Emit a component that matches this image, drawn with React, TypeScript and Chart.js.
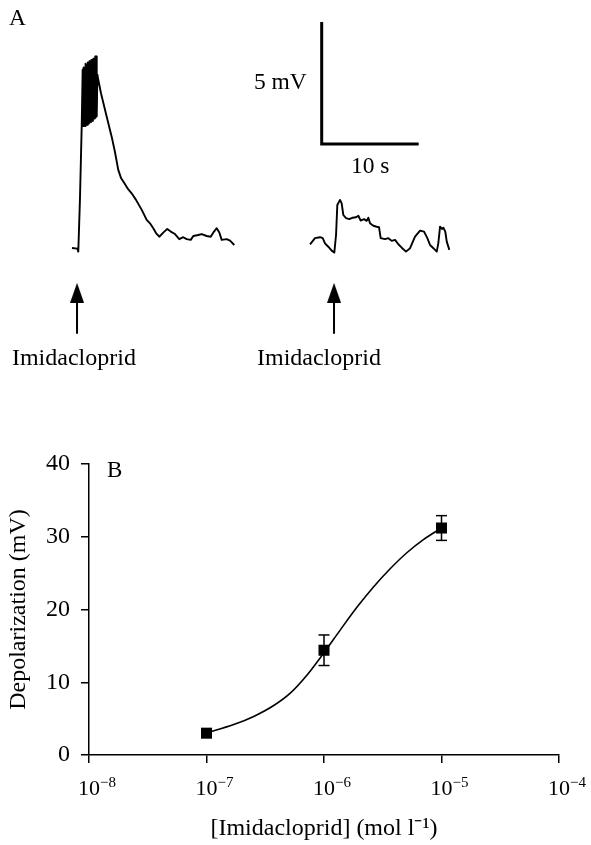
import { useEffect, useRef } from 'react';
import { Chart, registerables } from 'chart.js';

Chart.register(...registerables);

// ---------- Panel A: membrane potential traces (time in s, potential in mV above rest) ----------
const TRACE1_T = [
  0.0, 0.55, 0.65, 0.82, 1.0, 1.1,
  1.15, 1.2, 1.25, 1.3, 1.35, 1.4, 1.45, 1.5, 1.55, 1.6, 1.65, 1.7, 1.75, 1.8, 1.85, 1.9, 1.95,
  2.0, 2.05, 2.1, 2.15, 2.2, 2.25, 2.3, 2.35, 2.4, 2.45, 2.5, 2.55, 2.62,
  2.71, 2.99, 3.58, 4.09, 4.43, 4.77, 5.05, 5.39, 5.77, 6.15, 6.6, 7.19, 7.7, 8.04, 8.38, 8.66,
  9.0, 9.41, 9.82, 10.18, 10.62, 11.06, 11.47, 11.82, 12.24, 12.51, 13.02, 13.37, 13.89, 14.3,
  14.64, 14.92, 15.19, 15.43, 15.95, 16.29, 16.73,
];
const TRACE1_V = [
  0.0, -0.03, -0.15, 1.97, 4.97, 7.3,
  5.0, 7.4, 5.05, 7.35, 5.0, 7.55, 5.1, 7.5, 5.05, 7.6, 5.15, 7.55, 5.1, 7.65, 5.2, 7.6, 5.15,
  7.7, 5.25, 7.65, 5.2, 7.75, 5.3, 7.7, 5.3, 7.85, 5.35, 7.85, 5.4, 7.1,
  6.89, 6.34, 5.38, 4.56, 3.93, 3.2, 2.87, 2.66, 2.42, 2.24, 1.97, 1.56, 1.15, 1.01, 0.81, 0.61,
  0.46, 0.63, 0.78, 0.67, 0.57, 0.36, 0.44, 0.36, 0.33, 0.49, 0.53, 0.57, 0.49, 0.46,
  0.67, 0.81, 0.63, 0.33, 0.36, 0.3, 0.12,
];
const TRACE2_T = [
  24.54, 25.05, 25.57, 25.85, 26.08, 26.42, 26.77, 27.04, 27.22, 27.35, 27.63, 27.8, 27.97,
  28.25, 28.59, 28.94, 29.28, 29.52, 29.76, 30.1, 30.38, 30.55, 30.72, 31.06, 31.41, 31.65,
  31.82, 32.27, 32.61, 32.96, 33.3, 33.64, 33.99, 34.43, 34.85, 35.36, 35.88, 36.29, 36.63,
  36.91, 37.25, 37.6, 37.76, 37.94, 38.14, 38.28, 38.48, 38.63, 38.9,
];
const TRACE2_V = [
  0.15, 0.4, 0.44, 0.4, 0.19, 0.05, -0.11, -0.19, 0.53, 1.76, 1.97, 1.83, 1.35,
  1.22, 1.18, 1.24, 1.26, 1.32, 1.12, 1.18, 1.11, 1.24, 1.01, 0.91, 0.87, 0.85,
  0.4, 0.36, 0.4, 0.29, 0.33, 0.15, 0.01, -0.15, -0.01, 0.46, 0.71, 0.67, 0.4,
  0.12, -0.01, -0.15, 0.19, 0.87, 0.78, 0.83, 0.67, 0.26, -0.08,
];
const ARROW_T = [0.52, 27.01];
const SCALE_BAR_T = [25.74, 35.74]; // 10 s
const SCALE_BAR_V = [4.26, 9.26]; // 5 mV
const STIM_LABEL = 'Imidacloprid';

// ---------- Panel B: concentration–response ----------
const CONC_EXP = [-7, -6, -5];
const DEPOL_MEAN = [3.0, 14.4, 31.2];
const DEPOL_SEM = [0.3, 2.1, 1.7];
const FIT_LOG_CONC = [
  -7.0, -6.952, -6.768, -6.598, -6.428, -6.287, -6.144, -6.003, -5.861, -5.72, -5.579, -5.437,
  -5.295, -5.154, -5.0,
];
const FIT_DEPOL = [
  3.05, 3.26, 4.18, 5.3, 6.8, 8.5, 11.0, 14.0, 17.2, 20.3, 23.1, 25.6, 27.8, 29.6, 31.2,
];
const X_TICK_EXP = [-8, -7, -6, -5, -4];
const Y_TICKS = [0, 10, 20, 30, 40];
const X_TITLE = '[Imidacloprid] (mol l\u207B\u00B9)';
const Y_TITLE = 'Depolarization (mV)';

const SERIF = '"Liberation Serif", "Times New Roman", Times, serif';

function makeArrowHead(): HTMLCanvasElement {
  const c = document.createElement('canvas');
  c.width = 14;
  c.height = 20;
  const g = c.getContext('2d')!;
  g.fillStyle = '#000';
  g.beginPath();
  g.moveTo(7, 0);
  g.lineTo(14, 20);
  g.lineTo(0, 20);
  g.closePath();
  g.fill();
  return c;
}

export default function App() {
  const refA = useRef<HTMLCanvasElement>(null);
  const refB = useRef<HTMLCanvasElement>(null);

  useEffect(() => {
    const head = makeArrowHead();
    const xy = (ts: number[], vs: number[]) => ts.map((t, i) => ({ x: t, y: vs[i] }));
    const shafts: any[] = [];
    ARROW_T.forEach((t) => {
      shafts.push({ x: t, y: -2.1 }, { x: t, y: -3.52 }, { x: t, y: null });
    });

    const textA = {
      id: 'textA',
      afterDraw(chart: any) {
        const { ctx } = chart;
        const sx = chart.scales.x;
        const sy = chart.scales.y;
        const put = (s: string, t: number, v: number, align: CanvasTextAlign, size = 23.5) => {
          ctx.save();
          ctx.font = `${size}px ${SERIF}`;
          ctx.fillStyle = '#000';
          ctx.textAlign = align;
          ctx.textBaseline = 'alphabetic';
          ctx.fillText(s, sx.getPixelForValue(t), sy.getPixelForValue(v));
          ctx.restore();
        };
        put('A', -6.49, 9.14, 'left');
        put('5 mV', 24.2, 6.52, 'right');
        put('10 s', 30.74, 3.07, 'center');
        put(STIM_LABEL, -6.19, -4.8, 'left', 24);
        put(STIM_LABEL, 19.07, -4.8, 'left', 24);
      },
    };

    const chartA = new Chart(refA.current!, {
      type: 'line',
      data: {
        datasets: [
          { data: xy(TRACE1_T, TRACE1_V), borderColor: '#000', borderWidth: 1.9, pointRadius: 0, borderJoinStyle: 'round' },
          { data: xy(TRACE2_T, TRACE2_V), borderColor: '#000', borderWidth: 1.9, pointRadius: 0, borderJoinStyle: 'round' },
          {
            data: [
              { x: SCALE_BAR_T[0], y: SCALE_BAR_V[1] },
              { x: SCALE_BAR_T[0], y: SCALE_BAR_V[0] },
              { x: SCALE_BAR_T[1], y: SCALE_BAR_V[0] },
            ],
            borderColor: '#000', borderWidth: 3, pointRadius: 0, borderJoinStyle: 'miter', borderCapStyle: 'butt',
          },
          { data: shafts, borderColor: '#000', borderWidth: 2, pointRadius: 0, spanGaps: false },
          {
            data: ARROW_T.map((t) => ({ x: t, y: -1.84 })),
            showLine: false, pointStyle: head as any, pointRadius: 7, backgroundColor: '#000', borderColor: '#000',
          },
        ] as any,
      },
      options: {
        responsive: false,
        animation: false,
        layout: { padding: 0, autoPadding: false },
        plugins: { legend: { display: false }, tooltip: { enabled: false } },
        scales: {
          x: { type: 'linear', display: false, min: -7.42, max: 53.5 },
          y: { type: 'linear', display: false, min: -7.05, max: 10.16 },
        },
      },
      plugins: [textA],
    });

    const font = { family: SERIF, size: 24 };
    const textB = {
      id: 'textB',
      afterDraw(chart: any) {
        const { ctx, chartArea } = chart;
        const sx = chart.scales.x;
        ctx.save();
        ctx.fillStyle = '#000';
        ctx.textBaseline = 'alphabetic';
        X_TICK_EXP.forEach((e) => {
          const px = sx.getPixelForValue(Math.pow(10, e));
          const base = chartArea.bottom + 40;
          ctx.font = `22px ${SERIF}`;
          ctx.textAlign = 'center';
          ctx.fillText('10', px, base);
          const w = ctx.measureText('10').width;
          ctx.font = `15px ${SERIF}`;
          ctx.textAlign = 'left';
          ctx.fillText('\u2212' + String(Math.abs(e)), px + w / 2, base - 8);
        });
        ctx.font = `23px ${SERIF}`;
        ctx.textAlign = 'left';
        ctx.fillText('B', chartArea.left + 18, chartArea.top + 13);
        ctx.restore();
      },
    };

    const errData: any[] = [];
    CONC_EXP.forEach((e, i) => {
      const c = Math.pow(10, e);
      errData.push(
        { x: c, y: DEPOL_MEAN[i] - DEPOL_SEM[i] },
        { x: c, y: DEPOL_MEAN[i] + DEPOL_SEM[i] },
        { x: c, y: null },
      );
    });

    const chartB = new Chart(refB.current!, {
      type: 'line',
      data: {
        datasets: [
          {
            data: CONC_EXP.map((e, i) => ({ x: Math.pow(10, e), y: DEPOL_MEAN[i] })),
            showLine: false, pointStyle: 'rect', pointRadius: 7.8, pointBorderWidth: 0,
            backgroundColor: '#000', borderColor: '#000',
          },
          {
            data: errData, borderColor: '#000', borderWidth: 1.5, spanGaps: false,
            pointStyle: 'line', pointRadius: 5.5, pointBorderWidth: 1.5, pointBorderColor: '#000',
          },
          {
            data: FIT_LOG_CONC.map((l, i) => ({ x: Math.pow(10, l), y: FIT_DEPOL[i] })),
            borderColor: '#000', borderWidth: 1.6, pointRadius: 0, cubicInterpolationMode: 'monotone',
          },
        ] as any,
      },
      options: {
        responsive: false,
        animation: false,
        layout: { padding: { top: 34, right: 32, left: 0, bottom: 0 }, autoPadding: false },
        plugins: { legend: { display: false }, tooltip: { enabled: false } },
        scales: {
          x: {
            type: 'logarithmic',
            min: 1e-8,
            max: 1e-4,
            afterBuildTicks: (s: any) => {
              s.ticks = X_TICK_EXP.map((e) => ({ value: Math.pow(10, e) }));
            },
            afterFit: (s: any) => {
              s.height = 90;
            },
            ticks: { display: false },
            grid: { drawOnChartArea: false, drawTicks: true, tickLength: 8, color: '#000', lineWidth: 1.5 },
            border: { display: true, color: '#000', width: 1.5 },
            title: { display: true, text: X_TITLE, color: '#000', font, padding: { top: 0, bottom: 2 } },
          },
          y: {
            type: 'linear',
            min: 0,
            max: 40,
            afterBuildTicks: (s: any) => {
              s.ticks = Y_TICKS.map((v) => ({ value: v }));
            },
            afterFit: (s: any) => {
              s.width = 89;
            },
            ticks: { color: '#000', font, padding: 11 },
            grid: { drawOnChartArea: false, drawTicks: true, tickLength: 8, color: '#000', lineWidth: 1.5 },
            border: { display: true, color: '#000', width: 1.5 },
            title: { display: true, text: Y_TITLE, color: '#000', font, padding: { top: 4, bottom: 0 } },
          },
        },
      },
      plugins: [textB],
    });

    return () => {
      chartA.destroy();
      chartB.destroy();
    };
  }, []);

  return (
    <div style={{ position: 'absolute', left: 0, top: 0, width: 591, height: 845, background: '#fff' }}>
      <canvas ref={refA} width={591} height={420} style={{ position: 'absolute', left: 0, top: 0, display: 'block' }} />
      <canvas ref={refB} width={591} height={415} style={{ position: 'absolute', left: 0, top: 430, display: 'block' }} />
    </div>
  );
}
